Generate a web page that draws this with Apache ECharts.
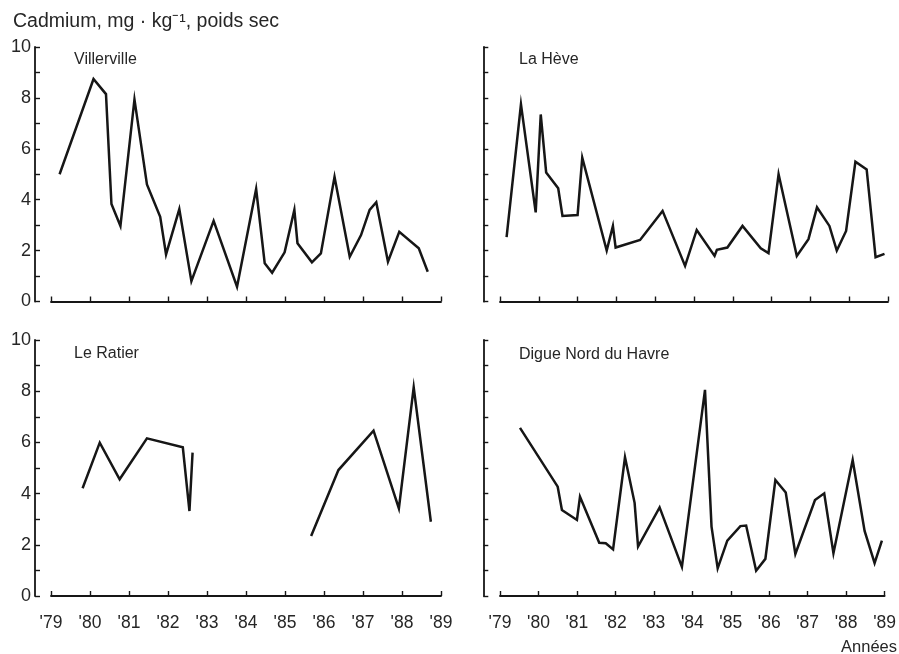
<!DOCTYPE html>
<html>
<head>
<meta charset="utf-8">
<script src="https://cdn.jsdelivr.net/npm/echarts@6/dist/echarts.min.js"></script>
<style>html,body{margin:0;padding:0;background:#fff}#c{width:899px;height:654px}</style>
</head>
<body>
<div id="c"></div>
<script>
// Tick labels
const yearTicks = [1979,1980,1981,1982,1983,1984,1985,1986,1987,1988,1989];
const panelNames = ['Villerville', 'La Hève', 'Le Ratier', 'Digue Nord du Havre'];

// Villerville
const villervilleX = [1979.22,1980.09,1980.41,1980.55,1980.78,1981.14,1981.46,1981.80,1981.95,1982.29,1982.60,1983.17,1983.77,1984.26,1984.48,1984.67,1984.99,1985.24,1985.32,1985.69,1985.92,1986.27,1986.66,1986.95,1987.17,1987.34,1987.64,1987.93,1988.43,1988.66];
const villervilleY = [5.0,8.74,8.15,3.83,2.97,7.94,4.6,3.33,1.85,3.63,0.8,3.17,0.58,4.42,1.5,1.13,1.93,3.6,2.29,1.54,1.89,4.9,1.76,2.61,3.6,3.9,1.56,2.74,2.09,1.17];

// La Hève
const laHeveX = [1979.17,1979.54,1979.92,1980.05,1980.19,1980.50,1980.61,1981.0,1981.12,1981.75,1981.91,1981.98,1982.61,1983.19,1983.77,1984.07,1984.53,1984.59,1984.86,1985.25,1985.72,1985.92,1986.18,1986.65,1986.95,1987.17,1987.49,1987.68,1987.92,1988.16,1988.45,1988.68,1988.91];
const laHeveY = [2.53,7.75,3.5,7.35,5.07,4.45,3.36,3.4,5.65,2.0,2.97,2.12,2.42,3.56,1.4,2.81,1.79,2.03,2.12,2.97,2.09,1.9,5.0,1.79,2.45,3.7,2.97,2.0,2.77,5.49,5.19,1.74,1.87];

// Le Ratier (null = gap in sampling)
const leRatierX = [1979.81,1980.25,1980.76,1981.46,1982.38,1982.55,1982.63,1984.0,1985.67,1986.37,1987.27,1987.92,1988.30,1988.74];
const leRatierY = [4.21,5.99,4.56,6.16,5.81,3.32,5.6,null,2.34,4.92,6.46,3.42,8.15,2.9];

// Digue Nord du Havre
const digueX = [1979.52,1980.50,1980.61,1981.0,1981.08,1981.58,1981.75,1981.94,1982.25,1982.50,1982.59,1983.15,1983.73,1984.33,1984.50,1984.66,1984.91,1985.25,1985.40,1985.66,1985.90,1986.16,1986.43,1986.68,1987.19,1987.43,1987.67,1988.17,1988.48,1988.74,1988.93];
const digueY = [6.57,4.27,3.36,2.97,3.88,2.08,2.06,1.82,5.42,3.64,1.93,3.46,1.14,8.05,2.71,1.08,2.16,2.73,2.75,0.99,1.45,4.53,4.04,1.64,3.75,4.01,1.67,5.31,2.54,1.28,2.16];

const pairs = (xs, ys) => xs.map((x, i) => [x, ys[i] === null ? '-' : ys[i]]);

const FONT = 'Liberation Sans';
const TXT = '#262626';
const LINE = '#161616';

const grids = [
  {left: 51, top: 47, width: 390, height: 254.5},
  {left: 500, top: 47, width: 388, height: 254.5},
  {left: 51, top: 340, width: 390, height: 256},
  {left: 500, top: 340, width: 388, height: 256}
];

const xAxes = grids.map((g, i) => ({
  type: 'value', gridIndex: i, min: 1979, max: 1989, interval: 1,
  offset: i < 2 ? 10.5 : 9,
  axisLine: {show: true, lineStyle: {color: LINE, width: 1.8}},
  axisTick: {show: true, inside: true, length: 5, lineStyle: {color: LINE, width: 1.4}},
  splitLine: {show: false},
  axisLabel: {
    show: i >= 2, margin: 9, color: TXT, fontFamily: FONT, fontSize: 17.5,
    formatter: v => "'" + String(v).slice(2)
  }
}));

const yAxes = grids.map((g, i) => ({
  type: 'value', gridIndex: i, min: 0, max: 10, interval: 1,
  offset: i % 2 === 0 ? 16 : 16.7,
  axisLine: {show: true, lineStyle: {color: LINE, width: 1.8}},
  axisTick: {show: true, inside: true, length: 5, lineStyle: {color: LINE, width: 1.4}},
  splitLine: {show: false},
  axisLabel: {
    show: i % 2 === 0, margin: 4, color: TXT, fontFamily: FONT, fontSize: 18,
    formatter: v => (v % 2 === 0 ? String(v) : '')
  }
}));

const datasets = [pairs(villervilleX, villervilleY), pairs(laHeveX, laHeveY), pairs(leRatierX, leRatierY), pairs(digueX, digueY)];

const series = datasets.map((d, i) => ({
  type: 'line', xAxisIndex: i, yAxisIndex: i, data: d,
  showSymbol: false, symbol: 'none', connectNulls: false, animation: false,
  lineStyle: {color: LINE, width: 2.5, join: 'miter'}
}));

const labelPos = [[74, 60], [519, 60], [74, 354], [519, 355]];
const graphics = panelNames.map((n, i) => ({
  type: 'text', x: labelPos[i][0], y: labelPos[i][1],
  style: {text: n, fill: TXT, font: '16px "' + FONT + '"', textAlign: 'left', textVerticalAlign: 'middle'}
}));
graphics.push({
  type: 'text', x: 13, y: 22,
  style: {text: 'Cadmium, mg · kg⁻¹, poids sec', fill: TXT, font: '19.5px "' + FONT + '"', textAlign: 'left', textVerticalAlign: 'middle'}
});
graphics.push({
  type: 'text', x: 897, y: 647,
  style: {text: 'Années', fill: TXT, font: '16.5px "' + FONT + '"', textAlign: 'right', textVerticalAlign: 'middle'}
});

const chart = echarts.init(document.getElementById('c'), null, {renderer: 'canvas'});
chart.setOption({
  animation: false,
  backgroundColor: '#ffffff',
  grid: grids,
  xAxis: xAxes,
  yAxis: yAxes,
  series: series,
  graphic: graphics
});
</script>
</body>
</html>
